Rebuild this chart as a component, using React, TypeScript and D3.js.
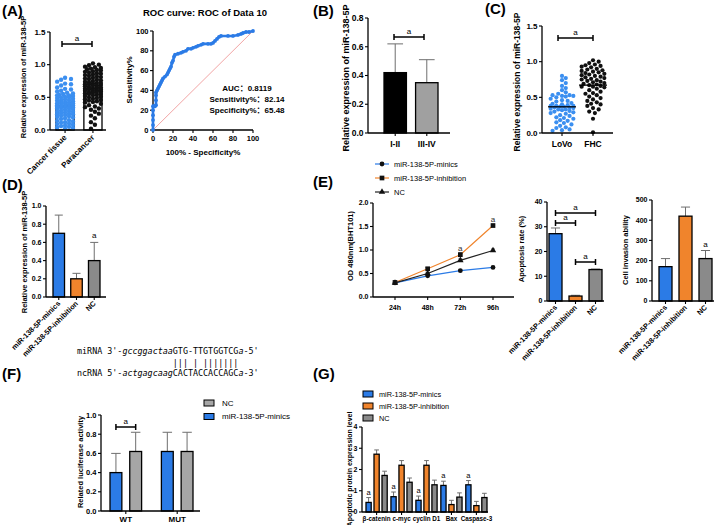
import React from "react";
import * as d3 from "d3";

const FONT = "'Liberation Sans', Arial, 'Noto Sans CJK SC', sans-serif";
const MONO = "'DejaVu Sans Mono', monospace";
const BLUE = "#2b7be6";
const DOTBLUE = "#3b8ff0";
const ORANGE = "#f0842c";
const GRAY = "#8a8a8a";
const LGRAY = "#a6a6a6";
const ERR = "#6e6e6e";

// ---------- Data ----------
const A_GROUPS = ["Cancer tissue", "Paracancer"];
const A_CANCER = [0.80,0.78,0.77,0.74,0.71,0.70,0.68,0.65,0.63,0.62,0.60,0.59,0.57,0.56,0.55,0.54,0.53,0.53,0.52,0.51,0.50,0.50,0.49,0.48,0.47,0.46,0.46,0.45,0.44,0.43,0.43,0.42,0.41,0.40,0.40,0.39,0.38,0.38,0.37,0.36,0.35,0.35,0.34,0.33,0.33,0.32,0.31,0.30,0.29,0.28,0.28,0.27,0.26,0.25,0.24,0.24,0.23,0.22,0.21,0.20,0.19,0.18,0.17,0.15,0.14,0.13,0.12,0.11,0.10,0.09,0.08,0.07,0.06,0.05,0.04,0.03,0.02,0.37,0.41,0.36];
const A_PARA = [1.02,1.00,0.99,0.97,0.96,0.95,0.94,0.93,0.92,0.91,0.90,0.89,0.88,0.87,0.86,0.85,0.84,0.83,0.82,0.81,0.80,0.79,0.78,0.77,0.76,0.75,0.74,0.73,0.72,0.71,0.70,0.70,0.69,0.68,0.67,0.66,0.65,0.65,0.64,0.63,0.62,0.61,0.60,0.60,0.59,0.58,0.57,0.56,0.55,0.55,0.54,0.53,0.52,0.51,0.50,0.49,0.48,0.47,0.46,0.45,0.44,0.43,0.42,0.40,0.38,0.36,0.35,0.33,0.31,0.28,0.25,0.22,0.18,0.12,0.08,0.02,0.68,0.72,0.62,0.58];
const A_TICKS = [0, 0.5, 1.0, 1.5];

const ROC_TITLE = "ROC curve: ROC of Data 10";
const ROC_FPR = [0,0,0,0,0,0,1,2,3,3,3,3,4,5,6,7,8,9,10,12,14,15,16,17,18,19,20,21,22,25,28,30,33,35,38,40,43,45,48,50,55,58,60,62,64,66,68,75,80,85,88,90,93,96,100];
const ROC_TPR = [0,5,10,15,20,24,24,24,25,30,35,38,40,42,44,46,48,50,52,54,56,58,60,62,64,68,70,74,76,77,78,79,80,82,82,83,84,85,86,87,87,87,88,90,92,94,95,95,95,96,97,98,99,99,100];
const ROC_TICKS = [0, 20, 40, 60, 80, 100];
const ROC_LABELS = ["AUC", "Sensitivity%", "Specificity%"];
const ROC_VALUES = ["0.8119", "82.14", "65.48"];

const B_GROUPS = ["I-II", "III-IV"];
const B_MEANS = [0.42, 0.35];
const B_SD = [0.20, 0.16];
const B_TICKS = [0, 0.2, 0.4, 0.6, 0.8];

const C_GROUPS = ["LoVo", "FHC"];
const C_LOVO = [0.80,0.77,0.74,0.70,0.66,0.63,0.60,0.57,0.55,0.53,0.52,0.52,0.51,0.50,0.48,0.46,0.45,0.44,0.42,0.41,0.40,0.39,0.38,0.38,0.37,0.37,0.36,0.35,0.34,0.33,0.32,0.31,0.30,0.29,0.28,0.27,0.25,0.24,0.22,0.21,0.20,0.18,0.17,0.15,0.14,0.12,0.10,0.08,0.07,0.05,0.04,0.03,0.36,0.38,0.53,0.33];
const C_FHC = [1.02,1.00,0.98,0.96,0.95,0.94,0.93,0.92,0.90,0.89,0.88,0.87,0.86,0.85,0.84,0.83,0.82,0.81,0.80,0.79,0.78,0.77,0.76,0.75,0.74,0.73,0.72,0.71,0.70,0.69,0.68,0.67,0.66,0.65,0.64,0.62,0.60,0.58,0.56,0.55,0.53,0.51,0.49,0.47,0.45,0.43,0.41,0.40,0.38,0.35,0.33,0.30,0.28,0.20,0.01,0.65];
const C_TICKS = [0, 0.5, 1.0, 1.5];

const TREAT = ["miR-138-5P-minics", "miR-138-5P-inhibition", "NC"];
const D_MEANS = [0.70, 0.20, 0.40];
const D_SD = [0.20, 0.06, 0.20];
const D_TICKS = [0, 0.2, 0.4, 0.6, 0.8, 1.0];

const E_TIMES = ["24h", "48h", "72h", "96h"];
const E_MINICS = [0.30, 0.45, 0.56, 0.63];
const E_INHIB = [0.31, 0.60, 0.90, 1.52];
const E_NC = [0.30, 0.50, 0.78, 0.99];
const E_MINICS_SD = [0.02, 0.02, 0.02, 0.02];
const E_INHIB_SD = [0.02, 0.03, 0.04, 0.03];
const E_NC_SD = [0.02, 0.02, 0.03, 0.03];
const E_TICKS = [0, 0.5, 1.0, 1.5, 2.0];

const E_APOP = [27.2, 2.0, 12.7];
const E_APOP_SD = [2.3, 0.3, 0.2];
const E_APOP_TICKS = [0, 10, 20, 30, 40];

const E_INV = [170, 420, 210];
const E_INV_SD = [40, 45, 40];
const E_INV_TICKS = [0, 100, 200, 300, 400, 500];

const SEQ_MI_PRE = "miRNA 3'-";
const SEQ_MI_LOW = "gccggactaa";
const SEQ_MI_UP = "GTG-TTGTGGTCG";
const SEQ_MI_END = "a";
const SEQ_MI_TAIL = "-5'";
const SEQ_PAIR = "                   ||| | |||||||";
const SEQ_NC_PRE = "ncRNA 5'-";
const SEQ_NC_LOW = "actgagcaag";
const SEQ_NC_UP = "CACTACCACCAGC";
const SEQ_NC_END = "a";
const SEQ_NC_TAIL = "-3'";

const F_GROUPS = ["WT", "MUT"];
const F_SERIES = ["miR-138-5P-minics", "NC"];
const F_MINICS = [0.40, 0.62];
const F_NC = [0.62, 0.62];
const F_MINICS_SD = [0.20, 0.20];
const F_NC_SD = [0.20, 0.20];
const F_TICKS = [0, 0.2, 0.4, 0.6, 0.8, 1.0];

const G_PROTEINS = ["β-catenin", "c-myc", "cyclin D1", "Bax", "Caspase-3"];
const G_MINICS = [0.45, 0.72, 0.55, 1.25, 1.28];
const G_INHIB = [2.72, 2.20, 2.20, 0.35, 0.30];
const G_NC = [1.72, 1.40, 1.28, 0.70, 0.68];
const G_MINICS_SD = [0.23, 0.22, 0.20, 0.20, 0.20];
const G_INHIB_SD = [0.20, 0.22, 0.22, 0.20, 0.20];
const G_NC_SD = [0.20, 0.20, 0.22, 0.20, 0.20];
const G_TICKS = [0, 1, 2, 3, 4];

// ---------- helpers ----------
type Sc = (v: number) => number;

function swarm(vals: number[], y: Sc, r: number, maxW: number): number[] {
  const idx = vals.map((_, i) => i).sort((a, b) => vals[b] - vals[a]);
  const placed: { x: number; y: number }[] = [];
  const out = new Array(vals.length).fill(0);
  const step = r * 0.9;
  const cands: number[] = [0];
  for (let k = 1; k * step <= maxW; k++) cands.push(k * step, -k * step);
  for (const i of idx) {
    const py = y(vals[i]);
    let best = 0, bestCost = Infinity;
    for (const c of cands) {
      let cost = 0;
      for (const p of placed) {
        const d = Math.hypot(p.x - c, p.y - py);
        if (d < 2 * r) cost += 2 * r - d;
      }
      if (cost < bestCost - 1e-9) { bestCost = cost; best = c; }
      if (cost === 0) break;
    }
    placed.push({ x: best, y: py });
    out[i] = best;
  }
  return out;
}

function YAxis({ y, ticks, x, fs, fmt }: { y: Sc; ticks: number[]; x: number; fs: number; fmt: (v: number) => string }) {
  return (
    <g>
      <line x1={x} x2={x} y1={y(ticks[0])} y2={y(ticks[ticks.length - 1])} stroke="#000" strokeWidth={1.3} />
      {ticks.map((t) => (
        <g key={t}>
          <line x1={x - 3} x2={x} y1={y(t)} y2={y(t)} stroke="#000" strokeWidth={1.1} />
          <text x={x - 4.5} y={y(t)} dy="0.35em" textAnchor="end" fontSize={fs} fontWeight="bold">{fmt(t)}</text>
        </g>
      ))}
    </g>
  );
}

function XLine({ x0, x1, y, centers }: { x0: number; x1: number; y: number; centers: number[] }) {
  return (
    <g>
      <line x1={x0} x2={x1} y1={y} y2={y} stroke="#000" strokeWidth={1.3} />
      {centers.map((c, i) => (
        <line key={i} x1={c} x2={c} y1={y} y2={y + 3} stroke="#000" strokeWidth={1.1} />
      ))}
    </g>
  );
}

function YTitle({ x, cy, text, fs }: { x: number; cy: number; text: string; fs: number }) {
  return (
    <text transform={`translate(${x},${cy}) rotate(-90)`} textAnchor="middle" fontSize={fs} fontWeight="bold">{text}</text>
  );
}

function RotLabel({ x, y, text, fs }: { x: number; y: number; text: string; fs: number }) {
  return (
    <text transform={`translate(${x},${y}) rotate(-45)`} textAnchor="end" fontSize={fs} fontWeight="bold">{text}</text>
  );
}

function Bar({ x, w, y, v, fill }: { x: number; w: number; y: Sc; v: number; fill: string }) {
  return <rect x={x} y={y(v)} width={w} height={y(0) - y(v)} fill={fill} stroke="#000" strokeWidth={1.3} />;
}

function ErrUp({ cx, w, y, v, sd }: { cx: number; w: number; y: Sc; v: number; sd: number }) {
  const top = y(v + sd);
  return (
    <g stroke={ERR} strokeWidth={1}>
      <line x1={cx} x2={cx} y1={y(v)} y2={top} />
      <line x1={cx - w / 2} x2={cx + w / 2} y1={top} y2={top} />
    </g>
  );
}

function Bracket({ x1, x2, y, fs = 8 }: { x1: number; x2: number; y: number; fs?: number }) {
  return (
    <g>
      <line x1={x1} x2={x2} y1={y} y2={y} stroke="#000" strokeWidth={1.5} />
      <line x1={x1} x2={x1} y1={y - 3} y2={y + 3} stroke="#000" strokeWidth={1.5} />
      <line x1={x2} x2={x2} y1={y - 3} y2={y + 3} stroke="#000" strokeWidth={1.5} />
      <text x={(x1 + x2) / 2} y={y - 3} textAnchor="middle" fontSize={fs}>a</text>
    </g>
  );
}

function PanelLabel({ x, y, text }: { x: number; y: number; text: string }) {
  return <text x={x} y={y} fontSize={15} fontWeight="bold">{text}</text>;
}

// ---------- Panels ----------
function PanelA() {
  const y = d3.scaleLinear().domain([0, 1.5]).range([130, 32]);
  const x = d3.scaleBand<string>().domain(A_GROUPS).range([56, 102]).paddingInner(0.35);
  const bw = x.bandwidth();
  const sets = [A_CANCER, A_PARA];
  const cols = [DOTBLUE, "#111"];
  const fmt = d3.format(".1f");
  const centers = A_GROUPS.map((g) => (x(g) as number) + bw / 2);
  return (
    <g>
      <YAxis y={y} ticks={A_TICKS} x={50} fs={8} fmt={fmt} />
      {A_GROUPS.map((g, i) => (
        <Bar key={g} x={x(g) as number} w={bw} y={y} v={d3.mean(sets[i]) as number} fill="#fff" />
      ))}
      {sets.map((s, i) => {
        const offs = swarm(s, y, 2.2, 9);
        return s.map((v, j) => (
          <circle key={i + "-" + j} cx={centers[i] + offs[j]} cy={y(v)} r={2.2} fill={cols[i]} />
        ));
      })}
      <XLine x0={50} x1={106} y={y(0)} centers={centers} />
      {A_GROUPS.map((g, i) => (
        <RotLabel key={g} x={centers[i] + 2} y={y(0) + 8} text={g} fs={8} />
      ))}
      <Bracket x1={62} x2={92} y={44} />
      <YTitle x={26} cy={77} text="Relative expression of miR-138-5P" fs={7.5} />
    </g>
  );
}

function PanelROC() {
  const x = d3.scaleLinear().domain([0, 100]).range([153, 253]);
  const y = d3.scaleLinear().domain([0, 100]).range([130, 31]);
  const pts = ROC_FPR.map((f, i) => [x(f), y(ROC_TPR[i])] as [number, number]);
  const line = d3.line();
  return (
    <g>
      <text x={205} y={16} textAnchor="middle" fontSize={9.5} fontWeight="bold">{ROC_TITLE}</text>
      <line x1={x(0)} y1={y(0)} x2={x(100)} y2={y(100)} stroke="#f2a5a5" strokeWidth={1} />
      <YAxis y={y} ticks={ROC_TICKS} x={153} fs={7.5} fmt={d3.format("d")} />
      <line x1={153} x2={253} y1={130} y2={130} stroke="#000" strokeWidth={1.3} />
      {ROC_TICKS.map((t) => (
        <g key={t}>
          <line x1={x(t)} x2={x(t)} y1={130} y2={133} stroke="#000" strokeWidth={1.1} />
          <text x={x(t)} y={141} textAnchor="middle" fontSize={7.5} fontWeight="bold">{t}</text>
        </g>
      ))}
      <path d={line(pts) as string} fill="none" stroke={BLUE} strokeWidth={2.6} strokeLinejoin="round" />
      {pts.map((p, i) => (
        <circle key={i} cx={p[0]} cy={p[1]} r={1.9} fill={BLUE} />
      ))}
      <YTitle x={132} cy={80} text="Sensitivity%" fs={8} />
      <text x={203} y={155} textAnchor="middle" fontSize={8} fontWeight="bold">100% - Specificity%</text>
      {ROC_LABELS.map((l, i) => (
        <text key={l} x={247} y={91 + i * 11} textAnchor="middle" fontSize={8} fontWeight="bold">
          {l + "："}{ROC_VALUES[i]}
        </text>
      ))}
    </g>
  );
}

function PanelB() {
  const y = d3.scaleLinear().domain([0, 0.8]).range([133, 18]);
  const x = d3.scaleBand<string>().domain(B_GROUPS).range([384, 438]).paddingInner(0.29);
  const bw = x.bandwidth();
  const fills = ["#000", "#a0a0a0"];
  const centers = B_GROUPS.map((g) => (x(g) as number) + bw / 2);
  return (
    <g>
      <YAxis y={y} ticks={B_TICKS} x={368} fs={8.5} fmt={d3.format(".1f")} />
      {B_GROUPS.map((g, i) => (
        <g key={g}>
          <ErrUp cx={centers[i]} w={bw * 0.7} y={y} v={B_MEANS[i]} sd={B_SD[i]} />
          <Bar x={x(g) as number} w={bw} y={y} v={B_MEANS[i]} fill={fills[i]} />
        </g>
      ))}
      <XLine x0={368} x1={450} y={y(0)} centers={centers} />
      {B_GROUPS.map((g, i) => (
        <text key={g} x={centers[i]} y={147} textAnchor="middle" fontSize={8.5} fontWeight="bold">{g}</text>
      ))}
      <Bracket x1={394} x2={424} y={37} />
      <YTitle x={349} cy={78} text="Relative expression of miR-138-5P" fs={9} />
    </g>
  );
}

function PanelC() {
  const y = d3.scaleLinear().domain([0, 1.5]).range([133, 26]);
  const x = d3.scalePoint<string>().domain(C_GROUPS).range([562, 593]);
  const sets = [C_LOVO, C_FHC];
  const cols = [DOTBLUE, "#111"];
  const centers = C_GROUPS.map((g) => x(g) as number);
  return (
    <g>
      <YAxis y={y} ticks={C_TICKS} x={542} fs={8} fmt={d3.format(".1f")} />
      {sets.map((s, i) => {
        const offs = swarm(s, y, 2.1, 13);
        return s.map((v, j) => (
          <circle key={i + "-" + j} cx={centers[i] + offs[j]} cy={y(v)} r={2.1} fill={cols[i]} />
        ));
      })}
      {sets.map((s, i) => {
        const m = d3.mean(s) as number;
        return <line key={i} x1={centers[i] - 14} x2={centers[i] + 14} y1={y(m)} y2={y(m)} stroke="#000" strokeWidth={1.3} />;
      })}
      <XLine x0={542} x1={613} y={y(0)} centers={centers} />
      {C_GROUPS.map((g, i) => (
        <text key={g} x={centers[i]} y={147} textAnchor="middle" fontSize={8.5} fontWeight="bold">{g}</text>
      ))}
      <Bracket x1={558} x2={593} y={38} />
      <YTitle x={520} cy={82} text="Relative expression of miR-138-5P" fs={8.5} />
    </g>
  );
}

function TreatBars({ vals, sds, y, x0, x1, axisX, axisEnd, ticks, fmt, fs, colors, aIndex }: any) {
  const x = d3.scaleBand<string>().domain(TREAT).range([x0, x1]).paddingInner(0.35);
  const bw = x.bandwidth();
  const centers = TREAT.map((g) => (x(g) as number) + bw / 2);
  return (
    <g>
      <YAxis y={y} ticks={ticks} x={axisX} fs={fs} fmt={fmt} />
      {TREAT.map((g, i) => (
        <g key={g}>
          <ErrUp cx={centers[i]} w={bw * 0.7} y={y} v={vals[i]} sd={sds[i]} />
          <Bar x={x(g) as number} w={bw} y={y} v={vals[i]} fill={colors[i]} />
        </g>
      ))}
      {aIndex !== undefined && (
        <text x={centers[aIndex]} y={y(vals[aIndex] + sds[aIndex]) - 4} textAnchor="middle" fontSize={8}>a</text>
      )}
      <XLine x0={axisX} x1={axisEnd} y={y(0)} centers={centers} />
      {TREAT.map((g, i) => (
        <RotLabel key={g} x={centers[i] + 2} y={y(0) + 7} text={g} fs={7.3} />
      ))}
    </g>
  );
}

function PanelD() {
  const y = d3.scaleLinear().domain([0, 1]).range([297, 206]);
  return (
    <g>
      <TreatBars vals={D_MEANS} sds={D_SD} y={y} x0={53} x1={100} axisX={46} axisEnd={106}
        ticks={D_TICKS} fmt={d3.format(".1f")} fs={7} colors={[BLUE, ORANGE, GRAY]} aIndex={2} />
      <YTitle x={27} cy={252} text="Relative expression of miR-138-5P" fs={7.5} />
    </g>
  );
}

function PanelELine() {
  const y = d3.scaleLinear().domain([0, 2]).range([297, 203]);
  const x = d3.scalePoint<string>().domain(E_TIMES).range([395, 493]);
  const line = d3.line<number>().x((_, i) => x(E_TIMES[i]) as number).y((v) => y(v));
  const series = [
    { name: TREAT[0], vals: E_MINICS, sd: E_MINICS_SD, color: BLUE, sym: d3.symbolCircle, size: 18 },
    { name: TREAT[1], vals: E_INHIB, sd: E_INHIB_SD, color: ORANGE, sym: d3.symbolSquare, size: 22 },
    { name: TREAT[2], vals: E_NC, sd: E_NC_SD, color: "#222", sym: d3.symbolTriangle, size: 18 },
  ];
  const centers = E_TIMES.map((t) => x(t) as number);
  return (
    <g>
      <YAxis y={y} ticks={E_TICKS} x={373} fs={7} fmt={d3.format(".1f")} />
      <XLine x0={373} x1={514} y={y(0)} centers={centers} />
      {series.map((s) => (
        <g key={s.name}>
          <path d={line(s.vals) as string} fill="none" stroke={s.color} strokeWidth={1.2} />
          {s.vals.map((v, i) => (
            <g key={i}>
              <line x1={centers[i]} x2={centers[i]} y1={y(v + s.sd[i])} y2={y(v - s.sd[i])} stroke="#333" strokeWidth={0.8} />
              <line x1={centers[i] - 2} x2={centers[i] + 2} y1={y(v + s.sd[i])} y2={y(v + s.sd[i])} stroke="#333" strokeWidth={0.8} />
              <path d={d3.symbol().type(s.sym).size(s.size)() as string} transform={`translate(${centers[i]},${y(v)})`} fill="#111" />
            </g>
          ))}
        </g>
      ))}
      <text x={centers[2]} y={y(E_INHIB[2]) - 4} textAnchor="middle" fontSize={8} fill="#333">a</text>
      <text x={centers[3]} y={y(E_INHIB[3]) - 4} textAnchor="middle" fontSize={8} fill="#333">a</text>
      {E_TIMES.map((t, i) => (
        <text key={t} x={centers[i]} y={310} textAnchor="middle" fontSize={7} fontWeight="bold">{t}</text>
      ))}
      <YTitle x={353} cy={246} text="OD 480nm(BHT101)" fs={7.5} />
      {series.map((s, i) => (
        <g key={s.name} transform={`translate(0,${164 + i * 14})`}>
          <line x1={375} x2={389} y1={0} y2={0} stroke={s.color} strokeWidth={1.2} />
          <path d={d3.symbol().type(s.sym).size(s.size)() as string} transform="translate(382,0)" fill="#111" />
          <text x={394} y={0} dy="0.35em" fontSize={7.5}>{s.name}</text>
        </g>
      ))}
    </g>
  );
}

function PanelEApop() {
  const y = d3.scaleLinear().domain([0, 40]).range([301, 202]);
  const x = d3.scaleBand<string>().domain(TREAT).range([549, 602]).paddingInner(0.35);
  const c = TREAT.map((g) => (x(g) as number) + x.bandwidth() / 2);
  return (
    <g>
      <TreatBars vals={E_APOP} sds={E_APOP_SD} y={y} x0={549} x1={602} axisX={547} axisEnd={604}
        ticks={E_APOP_TICKS} fmt={d3.format("d")} fs={7} colors={[BLUE, ORANGE, GRAY]} />
      <Bracket x1={c[0]} x2={c[2]} y={213} />
      <Bracket x1={c[0]} x2={c[1]} y={223} />
      <Bracket x1={c[1]} x2={c[2]} y={262} />
      <YTitle x={524} cy={249} text="Apoptosis rate (%)" fs={7.5} />
    </g>
  );
}

function PanelEInv() {
  const y = d3.scaleLinear().domain([0, 500]).range([301, 200]);
  return (
    <g>
      <TreatBars vals={E_INV} sds={E_INV_SD} y={y} x0={659} x1={712} axisX={652} axisEnd={714}
        ticks={E_INV_TICKS} fmt={d3.format("d")} fs={7} colors={[BLUE, ORANGE, GRAY]} aIndex={2} />
      <YTitle x={628} cy={250} text="Cell invasion ability" fs={7.5} />
    </g>
  );
}

function PanelSeq() {
  const fs = 8.4;
  return (
    <g fontFamily={MONO} fontSize={fs}>
      <text x={77} y={354} style={{ whiteSpace: "pre" }}>
        <tspan>{SEQ_MI_PRE}</tspan>
        <tspan fontStyle="italic">{SEQ_MI_LOW}</tspan>
        <tspan>{SEQ_MI_UP}</tspan>
        <tspan fontStyle="italic">{SEQ_MI_END}</tspan>
        <tspan>{SEQ_MI_TAIL}</tspan>
      </text>
      <text x={77} y={365.5} style={{ whiteSpace: "pre" }}>{SEQ_PAIR}</text>
      <text x={77} y={376} style={{ whiteSpace: "pre" }}>
        <tspan>{SEQ_NC_PRE}</tspan>
        <tspan fontStyle="italic">{SEQ_NC_LOW}</tspan>
        <tspan>{SEQ_NC_UP}</tspan>
        <tspan fontStyle="italic">{SEQ_NC_END}</tspan>
        <tspan>{SEQ_NC_TAIL}</tspan>
      </text>
    </g>
  );
}

function PanelF() {
  const y = d3.scaleLinear().domain([0, 1]).range([511, 415]);
  const x0 = d3.scaleBand<string>().domain(F_GROUPS).range([110, 193]).paddingInner(0.385);
  const x1 = d3.scaleBand<string>().domain(F_SERIES).range([0, x0.bandwidth()]).paddingInner(0.4);
  const bw = x1.bandwidth();
  const vals = [F_MINICS, F_NC];
  const sds = [F_MINICS_SD, F_NC_SD];
  const cols = [BLUE, LGRAY];
  const centers = F_GROUPS.map((g) => (x0(g) as number) + x0.bandwidth() / 2);
  const bc = (gi: number, si: number) => (x0(F_GROUPS[gi]) as number) + (x1(F_SERIES[si]) as number) + bw / 2;
  return (
    <g>
      <YAxis y={y} ticks={F_TICKS} x={101} fs={7.5} fmt={d3.format(".1f")} />
      {F_GROUPS.map((g, gi) =>
        F_SERIES.map((s, si) => (
          <g key={g + s}>
            <ErrUp cx={bc(gi, si)} w={bw * 0.8} y={y} v={vals[si][gi]} sd={sds[si][gi]} />
            <Bar x={bc(gi, si) - bw / 2} w={bw} y={y} v={vals[si][gi]} fill={cols[si]} />
          </g>
        ))
      )}
      <XLine x0={101} x1={200} y={y(0)} centers={centers} />
      {F_GROUPS.map((g, i) => (
        <text key={g} x={centers[i]} y={522} textAnchor="middle" fontSize={8} fontWeight="bold">{g}</text>
      ))}
      <Bracket x1={bc(0, 0)} x2={bc(0, 1)} y={427} />
      <YTitle x={83} cy={462} text="Related luciferase activity" fs={7.5} />
      {[1, 0].map((si, r) => (
        <g key={si} transform={`translate(0,${403 + r * 13.5})`}>
          <rect x={204} y={-3} width={10} height={6} fill={cols[si]} stroke="#000" strokeWidth={1} />
          <text x={222} y={0} dy="0.35em" fontSize={8}>{F_SERIES[si]}</text>
        </g>
      ))}
    </g>
  );
}

function PanelG() {
  const y = d3.scaleLinear().domain([0, 4]).range([512, 427]);
  const x0 = d3.scaleBand<string>().domain(G_PROTEINS).range([366, 487]).paddingInner(0.15);
  const x1 = d3.scaleBand<string>().domain(TREAT).range([0, x0.bandwidth()]).paddingInner(0.35);
  const bw = x1.bandwidth();
  const vals = [G_MINICS, G_INHIB, G_NC];
  const sds = [G_MINICS_SD, G_INHIB_SD, G_NC_SD];
  const cols = [BLUE, ORANGE, GRAY];
  const centers = G_PROTEINS.map((g) => (x0(g) as number) + x0.bandwidth() / 2);
  const bc = (gi: number, si: number) => (x0(G_PROTEINS[gi]) as number) + (x1(TREAT[si]) as number) + bw / 2;
  return (
    <g>
      <YAxis y={y} ticks={G_TICKS} x={362} fs={7} fmt={d3.format("d")} />
      {G_PROTEINS.map((g, gi) =>
        TREAT.map((s, si) => (
          <g key={g + s}>
            <ErrUp cx={bc(gi, si)} w={bw * 0.9} y={y} v={vals[si][gi]} sd={sds[si][gi]} />
            <Bar x={bc(gi, si) - bw / 2} w={bw} y={y} v={vals[si][gi]} fill={cols[si]} />
          </g>
        ))
      )}
      {G_PROTEINS.map((g, gi) => (
        <text key={g} x={bc(gi, 0)} y={y(G_MINICS[gi] + G_MINICS_SD[gi]) - 3} textAnchor="middle" fontSize={7.5}>a</text>
      ))}
      <XLine x0={362} x1={488} y={y(0)} centers={centers} />
      {G_PROTEINS.map((g, i) => (
        <text key={g} x={centers[i]} y={521} textAnchor="middle" fontSize={6.3} fontWeight="bold">{g}</text>
      ))}
      <YTitle x={352} cy={469} text="Apoptotic protein expression level" fs={7} />
      {TREAT.map((s, si) => (
        <g key={s} transform={`translate(0,${394 + si * 12})`}>
          <rect x={363} y={-3} width={10} height={6} fill={cols[si]} stroke="#000" strokeWidth={1} />
          <text x={379} y={0} dy="0.35em" fontSize={7.3}>{s}</text>
        </g>
      ))}
    </g>
  );
}

export default function App() {
  return (
    <svg width={720} height={525} style={{ position: "absolute", left: 0, top: 0 }} fontFamily={FONT}>
      <rect width={720} height={525} fill="#fff" />
      <PanelLabel x={2} y={16} text="(A)" />
      <PanelLabel x={313} y={16} text="(B)" />
      <PanelLabel x={485} y={14} text="(C)" />
      <PanelLabel x={2} y={190} text="(D)" />
      <PanelLabel x={313} y={187} text="(E)" />
      <PanelLabel x={2} y={379} text="(F)" />
      <PanelLabel x={313} y={379} text="(G)" />
      <PanelA />
      <PanelROC />
      <PanelB />
      <PanelC />
      <PanelD />
      <PanelELine />
      <PanelEApop />
      <PanelEInv />
      <PanelSeq />
      <PanelF />
      <PanelG />
    </svg>
  );
}
